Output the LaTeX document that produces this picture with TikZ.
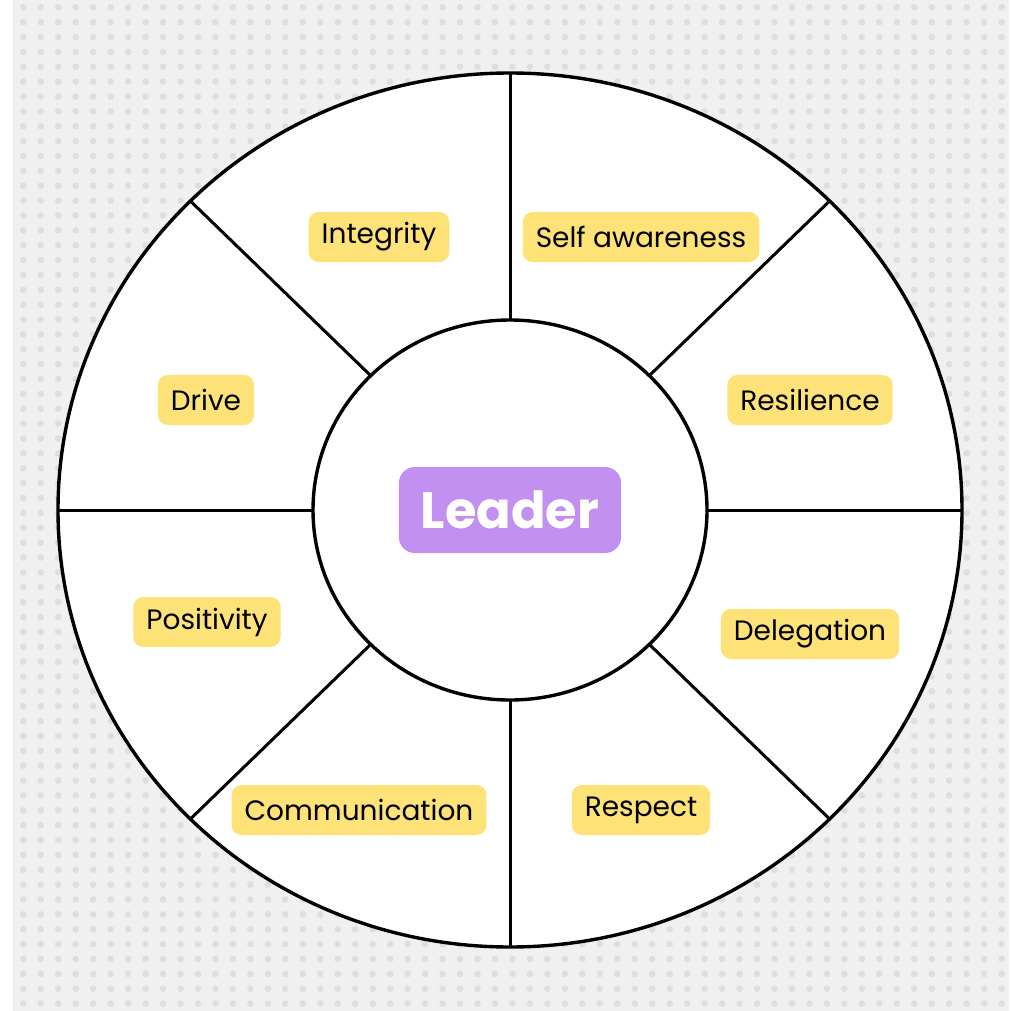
\documentclass[tikz,border=0pt]{standalone}
\usepackage{fontspec}
\setmainfont{Poppins}
\usetikzlibrary{positioning,calc}

\definecolor{bggrey}{HTML}{F0F0F0}
\definecolor{dotgrey}{HTML}{DEDEDE}
\definecolor{tagyellow}{HTML}{FCE277}
\definecolor{leaderpurple}{HTML}{C190F0}

\begin{document}
\begin{tikzpicture}[x=1pt, y=-1pt]
\tikzset{
trait/.style  = {shape=rectangle, fill=tagyellow, rounded corners=10pt, minimum height=50pt, inner xsep=13pt, inner ysep=0pt, font=\fontsize{28}{32}\selectfont},
leader/.style = {shape=rectangle, fill=leaderpurple, rounded corners=16pt, minimum height=86pt, inner xsep=22pt, text=white, font=\fontsize{51}{56}\selectfont\bfseries},
ring/.style   = {draw, line width=3.4pt},
spoke/.style  = {draw, line width=3pt},
}
    \useasboundingbox (0,0) rectangle (1009,1011);

    % Background with dots
    \fill [bggrey] (13,0) rectangle (1009,1011);
    \begin{scope}
    \clip (13,0) rectangle (1009,1011);
    \foreach \i in {0,...,57} {
        \foreach \j in {0,...,67} {
            \fill [dotgrey] (23.3+17.47*\i, 7.3+14.87*\j) circle (3.3pt);
        }
    }
    \end{scope}

    % Wheel
    \coordinate (hub) at (510,510);
    \fill [white] (hub) ellipse (452 and 437);
    \draw [ring] (hub) ellipse (452 and 437);
    \draw [ring] (hub) ellipse (197 and 190);
    \foreach \a in {0,45,...,315}
        \draw [spoke] ($(hub)+(\a:197 and 190)$) -- ($(hub)+(\a:452 and 437)$);

    % Main nodes
    \node [leader]  (leader)        at (hub)        {Leader};
    \node [trait]   (integrity)     at (379,237)    {Integrity};
    \node [trait]   (selfaware)     at (641,237)    {Self awareness};
    \node [trait]   (drive)         at (206,400)    {Drive};
    \node [trait]   (resilience)    at (810,400)    {Resilience};
    \node [trait]   (positivity)    at (207,622)    {Positivity};
    \node [trait]   (delegation)    at (810,634)    {Delegation};
    \node [trait]   (communication) at (359,810)    {Communication};
    \node [trait]   (respect)       at (641,810)    {Respect};

\end{tikzpicture}
\end{document}
